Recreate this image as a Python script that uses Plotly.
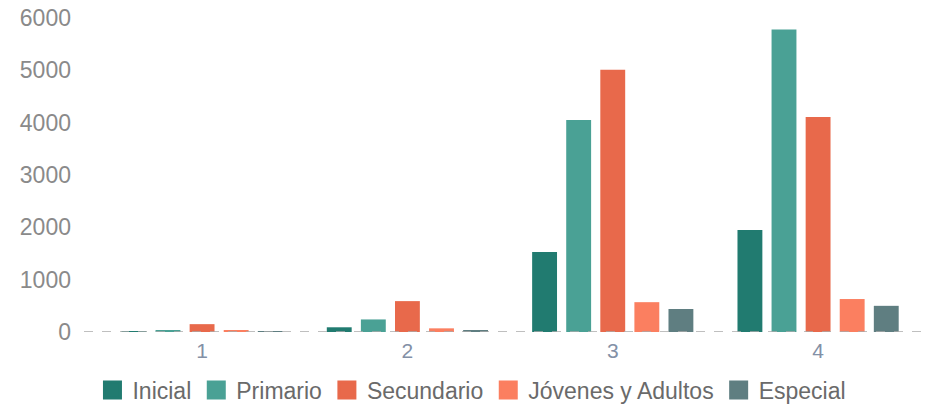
import plotly.graph_objects as go

# niveles / ciclos
categories = ["1", "2", "3", "4"]

inicial = [10, 90, 1530, 1950]
primario = [25, 240, 4050, 5780]
secundario = [150, 590, 5010, 4110]
jovenes_adultos = [20, 70, 570, 630]
especial = [5, 30, 440, 500]

series = [
    ("Inicial", inicial, "#217b70"),
    ("Primario", primario, "#4aa195"),
    ("Secundario", secundario, "#e8694b"),
    ("Jóvenes y Adultos", jovenes_adultos, "#fb7f60"),
    ("Especial", especial, "#5f7e81"),
]

fig = go.Figure()
for name, vals, color in series:
    fig.add_trace(go.Bar(x=categories, y=vals, name=name, marker_color=color,
                         marker_line_width=0, showlegend=False))
# legend entries with bigger square swatches
for name, vals, color in series:
    fig.add_trace(go.Scatter(x=[None], y=[None], mode="markers", name=name,
                             marker=dict(symbol="square", size=16, color=color,
                                         line=dict(color=color, width=3))))

fig.update_layout(
    width=931,
    height=404,
    barmode="group",
    bargap=0.17,
    bargroupgap=0.27,
    plot_bgcolor="white",
    paper_bgcolor="white",
    font=dict(family="Liberation Sans", size=23, color="#8a8a8a"),
    margin=dict(l=84, r=1, t=18, b=72, autoexpand=False),
    legend=dict(orientation="h", x=0.01, xanchor="left", y=-0.185, yanchor="middle",
                font=dict(size=23, color="#6a6a6a"), itemwidth=30,
                tracegroupgap=0),
    xaxis=dict(showgrid=False, showline=False, ticks="", range=[-0.575, 3.545],
               tickfont=dict(color="#8390a6", size=21), ticklabelstandoff=4),
    yaxis=dict(range=[0, 6000], dtick=1000, showgrid=False, zeroline=False,
               ticklabelstandoff=12),
)
# dashed baseline
fig.add_shape(type="line", xref="paper", yref="y", x0=0, x1=1, y0=0, y1=0,
              line=dict(color="#aaaaaa", width=1.5, dash="dash"), layer="above")

# the page body has a default 8px margin; drop it so the figure sits at 0,0
fig.write_html("out.html", config={"displayModeBar": False},
               post_script="document.body.style.margin='0';")
